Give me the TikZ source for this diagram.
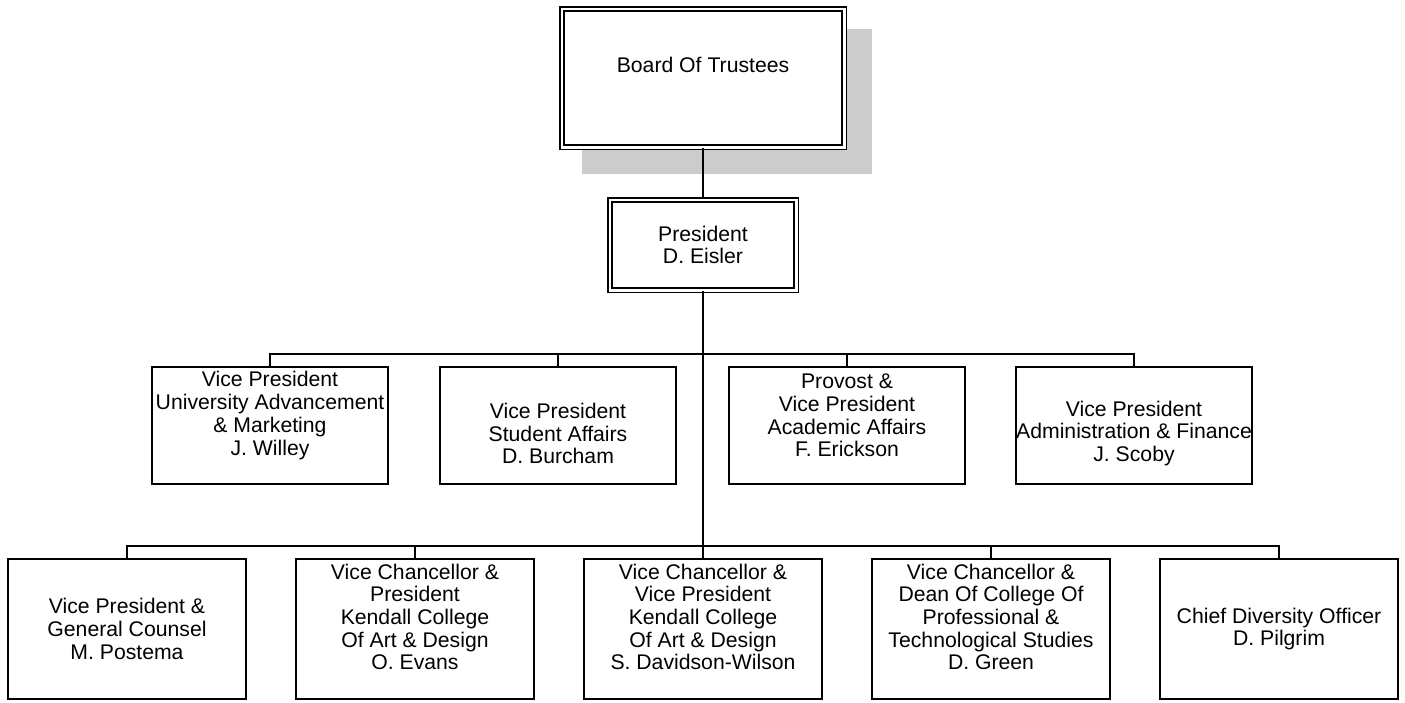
\documentclass[tikz,border=0pt]{standalone}
\usepackage{fontspec}
\setmainfont{Liberation Sans}
\definecolor{shadowgray}{HTML}{CCCCCC}
\newcommand{\orgfont}{\fontsize{21.2}{22.7}\selectfont}
\tikzset{
  orgbox/.style={draw, line width=2pt, fill=white, inner sep=0pt},
  topbox/.style={orgbox, double, double distance=2.4pt, line width=1.7pt},
  vpbox/.style={orgbox, minimum width=236pt, minimum height=117pt},
  unitbox/.style={orgbox, minimum width=238pt, minimum height=140pt},
  caption/.style={font=\orgfont, align=center, inner sep=0pt},
  link/.style={line width=2pt}
}
\begin{document}
\begin{tikzpicture}[x=1pt, y=-1pt]
    \useasboundingbox (0,0) rectangle (1405,702);
    % shadow behind the board
    \fill[shadowgray] (582,29) rectangle (872,174);

    % top of the chart
    \node[topbox, minimum width=282.6pt, minimum height=138.6pt,
      label={[caption, yshift=13pt]center:Board Of Trustees}] (board) at (703,78) {};
    \node[topbox, minimum width=186.6pt, minimum height=90.6pt,
      label={[caption]center:{President\\D. Eisler}}] (pres) at (703,245) {};

    % vice presidents
    \node[vpbox, label={[caption, yshift=10pt]center:{Vice President\\University Advancement\\\& Marketing\\J. Willey}}] (adv) at (270,425.5) {};
    \node[vpbox, label={[caption, yshift=-8pt]center:{Vice President\\Student Affairs\\D. Burcham}}] (stu) at (558,425.5) {};
    \node[vpbox, label={[caption, yshift=10pt]center:{Provost \&\\Vice President\\Academic Affairs\\F. Erickson}}] (aca) at (847,425.5) {};
    \node[vpbox, label={[caption, yshift=-8pt]center:{Vice President\\Administration \& Finance\\J. Scoby}}] (fin) at (1134,425.5) {};

    % second row
    \node[unitbox, label={[caption]center:{Vice President \&\\General Counsel\\M. Postema}}] (law) at (127,629) {};
    \node[unitbox, label={[caption, yshift=12pt]center:{Vice Chancellor \&\\President\\Kendall College\\Of Art \& Design\\O. Evans}}] (kcad) at (415,629) {};
    \node[unitbox, label={[caption, yshift=12pt]center:{Vice Chancellor \&\\Vice President\\Kendall College\\Of Art \& Design\\S. Davidson-Wilson}}] (kcadvp) at (703,629) {};
    \node[unitbox, label={[caption, yshift=12pt]center:{Vice Chancellor \&\\Dean Of College Of\\Professional \&\\Technological Studies\\D. Green}}] (cpts) at (991,629) {};
    \node[unitbox, label={[caption]center:{Chief Diversity Officer\\D. Pilgrim}}] (div) at (1279,629) {};

    % connectors
    \coordinate (bus1) at (703,354);
    \coordinate (bus2) at (703,546);
    \draw[link] (board) -- (pres);
    \draw[link] (pres.south) -- (bus2);
    \draw[link] (adv.north) |- (bus1) -| (fin.north);
    \draw[link] (stu.north) -- (stu.north |- bus1);
    \draw[link] (aca.north) -- (aca.north |- bus1);
    \draw[link] (law.north) |- (bus2) -| (div.north);
    \draw[link] (kcad.north) -- (kcad.north |- bus2);
    \draw[link] (kcadvp.north) -- (bus2);
    \draw[link] (cpts.north) -- (cpts.north |- bus2);
\end{tikzpicture}
\end{document}
